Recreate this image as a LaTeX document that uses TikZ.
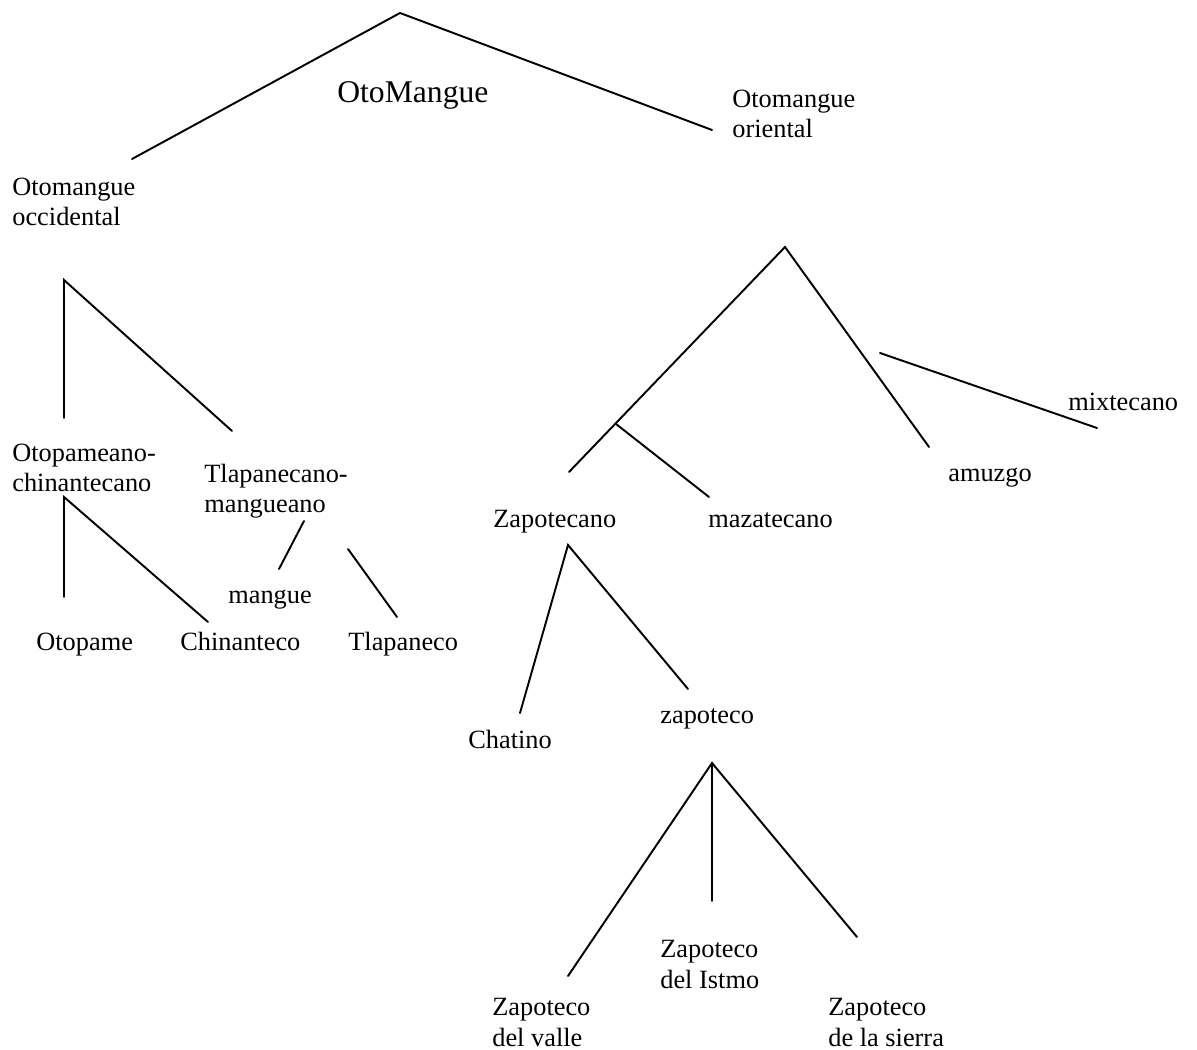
\documentclass[tikz,border=0pt]{standalone}
\usepackage{fontspec}
\setmainfont{Liberation Serif}
\usepackage{tikz}

\tikzset{
	lengua/.style={anchor=base west, inner sep=0pt, align=left, font=\fontsize{15}{17.1}\selectfont},
	rama/.style={line width=1.1pt, line cap=round}
}

\begin{document}
\begin{tikzpicture}[x=0.02cm, y=-0.02cm]
			\useasboundingbox (0,0) rectangle (1197,1050);
			
			\node[lengua, font=\fontsize{18}{20}\selectfont] (otomangue) at (337,103) {OtoMangue};
			\node[lengua] (occidental) at (12,226) {Otomangue\\occidental};
			\node[lengua] (oriental) at (732,138) {Otomangue\\oriental};
			
			\node[lengua] (otopameano) at (12,492) {Otopameano-\\chinantecano};
			\node[lengua] (tlapanecano) at (204,513) {Tlapanecano-\\mangueano};
			\node[lengua] (mangue) at (228,603) {mangue};
			\node[lengua] (otopame) at (36,650) {Otopame};
			\node[lengua] (chinanteco) at (180,650) {Chinanteco};
			\node[lengua] (tlapaneco) at (348,650) {Tlapaneco};
			
			\node[lengua] (zapotecano) at (493,528) {Zapotecano};
			\node[lengua] (mazatecano) at (708,528) {mazatecano};
			\node[lengua] (amuzgo) at (948,482) {amuzgo};
			\node[lengua] (mixtecano) at (1068,411) {mixtecano};
			\node[lengua] (chatino) at (468,748) {Chatino};
			\node[lengua] (zapoteco) at (660,723) {zapoteco};
			\node[lengua] (istmo) at (660,988) {Zapoteco\\del Istmo};
			\node[lengua] (valle) at (492,1046) {Zapoteco\\del valle};
			\node[lengua] (sierra) at (828,1046) {Zapoteco\\de la sierra};
			
			\coordinate (raiz) at (400,13);
			\coordinate (raiz-occ) at (132,159);
			\coordinate (raiz-or) at (712,130);
			\draw[rama] (raiz-occ) -- (raiz) -- (raiz-or);
			
			\coordinate (occ) at (64,280);
			\coordinate (occ-otopameano) at (64,418);
			\coordinate (occ-tlapanecano) at (232,431);
			\draw[rama] (occ-otopameano) -- (occ) -- (occ-tlapanecano);
			
			\coordinate (otopam) at (64,497);
			\coordinate (otopam-otopame) at (64,597);
			\coordinate (otopam-chinanteco) at (208,622);
			\draw[rama] (otopam-otopame) -- (otopam) -- (otopam-chinanteco);
			
			\coordinate (tlap-a) at (304,521);
			\coordinate (tlap-mangue) at (279,569);
			\coordinate (tlap-b) at (348,549);
			\coordinate (tlap-tlapaneco) at (397,617);
			\draw[rama] (tlap-a) -- (tlap-mangue);
			\draw[rama] (tlap-b) -- (tlap-tlapaneco);
			
			\coordinate (or) at (785,247);
			\coordinate (or-zapotecano) at (569,472);
			\coordinate (or-amuzgo) at (929,447);
			\coordinate (or-rama) at (616,424);
			\coordinate (or-mazatecano) at (709,497);
			\coordinate (or-mixt-a) at (880,353);
			\coordinate (or-mixtecano) at (1097,428);
			\draw[rama] (or-zapotecano) -- (or) -- (or-amuzgo);
			\draw[rama] (or-rama) -- (or-mazatecano);
			\draw[rama] (or-mixt-a) -- (or-mixtecano);
			
			\coordinate (zapn) at (568,545);
			\coordinate (zapn-chatino) at (520,713);
			\coordinate (zapn-zapoteco) at (688,689);
			\draw[rama] (zapn-chatino) -- (zapn) -- (zapn-zapoteco);
			
			\coordinate (zapo) at (712,763);
			\coordinate (zapo-valle) at (568,976);
			\coordinate (zapo-istmo) at (712,901);
			\coordinate (zapo-sierra) at (857,937);
			\draw[rama] (zapo-valle) -- (zapo) -- (zapo-sierra);
			\draw[rama] (zapo) -- (zapo-istmo);
		\end{tikzpicture}
\end{document}
